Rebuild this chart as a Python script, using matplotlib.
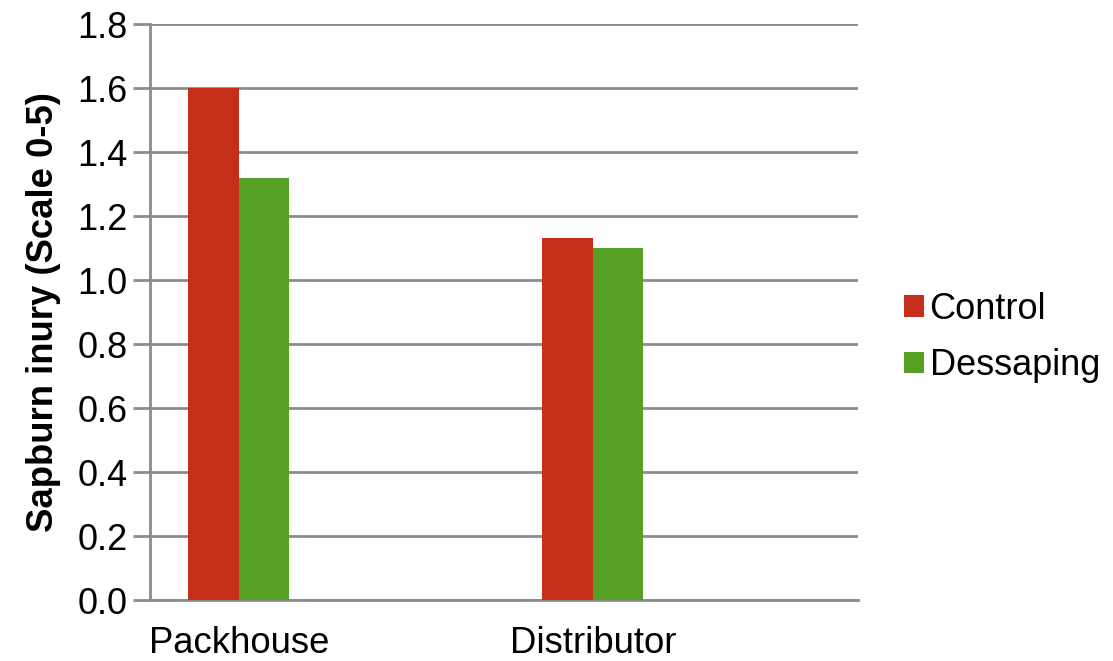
import matplotlib
matplotlib.use("Agg")
import matplotlib.pyplot as plt
import numpy as np

categories = ["Packhouse", "Distributor"]
control = [1.60, 1.13]
dessaping = [1.32, 1.10]
yticks = [0.0, 0.2, 0.4, 0.6, 0.8, 1.0, 1.2, 1.4, 1.6, 1.8]

plt.rcParams['font.family'] = ['Liberation Sans', 'DejaVu Sans']

fig = plt.figure(figsize=(11.13, 6.61), dpi=100)
ax = fig.add_axes([150/1113, 61/661, 708/1113, 576/661])

x = np.arange(len(categories))
w = 0.143
c_red = "#C52E1A"
c_green = "#56A023"
ax.bar(x - w/2, control, width=w, color=c_red, label="Control", zorder=3)
ax.bar(x + w/2, dessaping, width=w, color=c_green, label="Dessaping", zorder=3)

ax.set_xlim(-0.251, 1.749)
ax.set_ylim(0, 1.8)
ax.set_yticks(yticks)
ax.set_yticklabels([f"{v:.1f}" for v in yticks], fontsize=26)
ax.set_xticks(x)
ax.set_xticklabels(categories, fontsize=26.3)
ax.tick_params(axis='x', length=0, pad=19)
ax.tick_params(axis='y', length=12, width=2, color="#8C8C8C", pad=4)
ax.yaxis.grid(True, color="#8C8C8C", linewidth=2, zorder=0)
ax.set_axisbelow(True)
for s in ["top", "right"]:
    ax.spines[s].set_visible(False)
for s in ["left", "bottom"]:
    ax.spines[s].set_color("#8C8C8C")
    ax.spines[s].set_linewidth(2)

ax.set_ylabel("Sapburn inury (Scale 0-5)", fontsize=26.3, fontweight="bold", labelpad=12)

ax.legend(loc="center left", bbox_to_anchor=(1.045, 0.456), frameon=False,
          fontsize=26, handlelength=0.55, handleheight=0.55, handletextpad=0.15,
          labelspacing=0.6, borderaxespad=0)

fig.savefig("out.png", dpi=100)
